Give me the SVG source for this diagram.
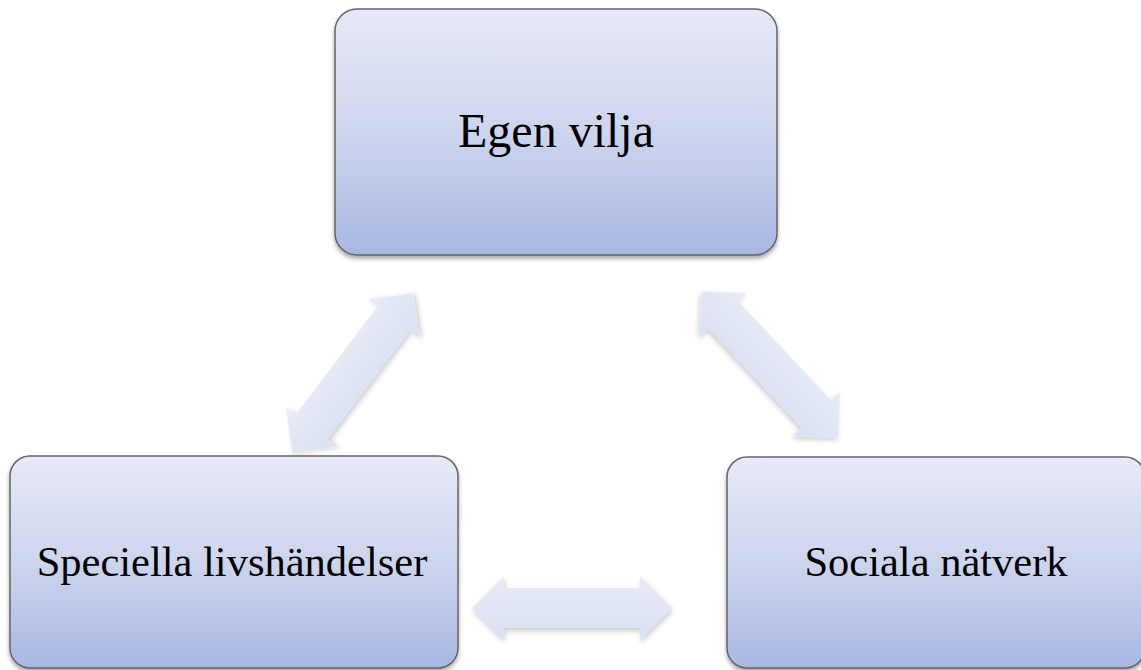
<svg xmlns="http://www.w3.org/2000/svg" width="1141" height="670" viewBox="0 0 1141 670">
  <defs>
    <linearGradient id="boxGrad" x1="0" y1="0" x2="0" y2="1">
      <stop offset="0" stop-color="#e7eaf7"/>
      <stop offset="0.5" stop-color="#cdd5ee"/>
      <stop offset="1" stop-color="#a8b8e2"/>
    </linearGradient>
    <linearGradient id="arrowGrad" x1="0" y1="0" x2="0" y2="1">
      <stop offset="0" stop-color="#e8ecf8"/>
      <stop offset="1" stop-color="#d9e0f2"/>
    </linearGradient>
    <filter id="boxShadow" x="-5%" y="-5%" width="110%" height="115%">
      <feDropShadow dx="0" dy="3" stdDeviation="2" flood-color="#000" flood-opacity="0.35"/>
    </filter>
    <filter id="arrowShadow" x="-20%" y="-20%" width="140%" height="140%">
      <feDropShadow dx="1" dy="3" stdDeviation="2.5" flood-color="#000" flood-opacity="0.2"/>
    </filter>
    <path id="dblArrow" d="M -100 0 L -68 -32 L -68 -20 L 68 -20 L 68 -32 L 100 0 L 68 32 L 68 20 L -68 20 L -68 32 Z"/>
  </defs>
  <style>
    .box { fill: url(#boxGrad); stroke: #666666; stroke-width: 1.5; filter: url(#boxShadow); }
    .arrow { fill: url(#arrowGrad); filter: url(#arrowShadow); }
    .label { font-family: "Liberation Serif", "Times New Roman", serif; fill: #000; text-anchor: middle; }
  </style>
  <rect width="1141" height="670" fill="#ffffff"/>
  <g id="connectors">
    <use href="#dblArrow" class="arrow" transform="translate(352.5 373) rotate(-52.9)"/>
    <use href="#dblArrow" class="arrow" transform="translate(770 364.5) rotate(46.8)"/>
    <use href="#dblArrow" class="arrow" transform="translate(572 608)"/>
  </g>
  <g id="node-egen-vilja">
    <rect class="box" x="335" y="9" width="442" height="246" rx="22" ry="22"/>
    <text class="label" x="556" y="147" font-size="48">Egen vilja</text>
  </g>
  <g id="node-speciella-livshandelser">
    <rect class="box" x="10" y="456" width="448" height="212" rx="20" ry="20"/>
    <text class="label" x="232" y="576" font-size="42.5">Speciella livshändelser</text>
  </g>
  <g id="node-sociala-natverk">
    <rect class="box" x="727" y="457" width="418" height="211" rx="20" ry="20"/>
    <text class="label" x="936" y="576" font-size="42.5">Sociala nätverk</text>
  </g>
</svg>
